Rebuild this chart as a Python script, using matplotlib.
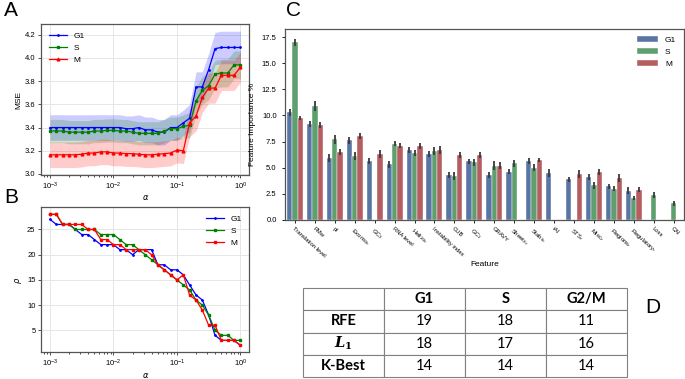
import numpy as np
import matplotlib
matplotlib.use('Agg')
import matplotlib.pyplot as plt

plt.rcParams['font.family'] = ['Liberation Sans', 'DejaVu Sans']
plt.rcParams['font.size'] = 6

# ---- data ----
alpha = [0.001, 0.00126, 0.00158, 0.002, 0.00251, 0.00316, 0.00398, 0.00501,
         0.00631, 0.00794, 0.01, 0.0126, 0.0158, 0.02, 0.0251, 0.0316, 0.0398,
         0.0501, 0.0631, 0.0794, 0.1, 0.126, 0.158, 0.2, 0.251, 0.316, 0.398,
         0.501, 0.631, 0.794, 1.0]

mse_g1 = [3.40, 3.40, 3.40, 3.40, 3.40, 3.40, 3.40, 3.40, 3.40, 3.40, 3.40,
          3.40, 3.39, 3.39, 3.40, 3.38, 3.38, 3.36, 3.36, 3.40, 3.40, 3.44,
          3.48, 3.75, 3.75, 3.90, 4.08, 4.09, 4.09, 4.09, 4.09]
mse_s = [3.37, 3.37, 3.37, 3.36, 3.36, 3.36, 3.36, 3.37, 3.37, 3.375, 3.375,
         3.37, 3.37, 3.36, 3.35, 3.35, 3.35, 3.35, 3.37, 3.39, 3.39, 3.41,
         3.42, 3.63, 3.72, 3.76, 3.86, 3.87, 3.87, 3.94, 3.94]
mse_m = [3.165, 3.165, 3.165, 3.165, 3.165, 3.17, 3.18, 3.18, 3.19, 3.19, 3.18,
         3.18, 3.175, 3.175, 3.17, 3.165, 3.165, 3.17, 3.175, 3.18, 3.205, 3.20,
         3.44, 3.50, 3.66, 3.74, 3.74, 3.85, 3.85, 3.85, 3.92]
std_g1 = [0.11, 0.11, 0.11, 0.11, 0.11, 0.11, 0.11, 0.11, 0.11, 0.11, 0.11,
          0.11, 0.11, 0.11, 0.11, 0.11, 0.11, 0.11, 0.11, 0.11, 0.11, 0.11,
          0.12, 0.13, 0.13, 0.14, 0.14, 0.14, 0.14, 0.14, 0.14]
std_s = [0.10, 0.10, 0.10, 0.10, 0.10, 0.10, 0.10, 0.10, 0.10, 0.10, 0.10,
         0.10, 0.10, 0.10, 0.10, 0.10, 0.10, 0.10, 0.10, 0.10, 0.10, 0.10,
         0.11, 0.12, 0.12, 0.12, 0.12, 0.12, 0.12, 0.12, 0.12]
std_m = [0.11, 0.11, 0.11, 0.11, 0.11, 0.11, 0.11, 0.11, 0.11, 0.11, 0.11,
         0.11, 0.11, 0.11, 0.11, 0.11, 0.11, 0.11, 0.11, 0.11, 0.11, 0.11,
         0.12, 0.13, 0.13, 0.13, 0.13, 0.13, 0.13, 0.13, 0.13]

rho_g1 = [27, 26, 26, 26, 25, 24, 24, 23, 22, 22, 22, 21, 21, 20, 21, 21, 21,
          18, 18, 17, 17, 16, 14, 12, 11, 8, 4, 3, 3, 3, 2]
rho_s = [28, 28, 26, 26, 25, 25, 25, 25, 24, 24, 24, 23, 22, 22, 21, 20, 19,
         18, 17, 16, 15, 14, 13, 11, 10, 8, 5, 4, 4, 3, 3]
rho_m = [28, 28, 26, 26, 26, 26, 25, 25, 23, 23, 22, 22, 21, 21, 21, 21, 20,
         18, 17, 16, 15, 16, 12, 11, 9, 6, 6, 3, 3, 3, 2]

features = ['Translation level', 'PMw', 'pI', r'Exons$_{Sc}$', r'GC$_3$',
            'RNA level', r'Helix$_{Sc}$', 'Instability index', 'CUB', r'GC$_1$',
            'GRAVY', r'Sheet$_{Sc}$', r'Stab$_{Sc}$', 'tAI', r'STS$_r$',
            r'Misc$_r$', r'Regions$_r$', r'Regulatory$_r$', 'Loss', 'CAI']
imp_g1 = [10.3, 9.2, 5.9, 7.6, 5.6, 5.3, 6.7, 6.3, 4.3, 5.6,
          4.3, 4.6, 5.6, 4.5, 3.9, 4.1, 3.2, 2.8, np.nan, np.nan]
imp_s = [17.0, 10.9, 7.7, 6.1, np.nan, 7.3, 6.4, 6.6, 4.2, 5.5,
         5.2, 5.4, 5.0, np.nan, np.nan, 3.3, 3.0, 2.1, 2.4, 1.6]
imp_m = [9.75, 9.1, 6.5, 8.0, 6.3, 7.1, 7.1, 6.7, 6.2, 6.2,
         5.2, np.nan, 5.7, np.nan, 4.4, 4.6, 4.0, 2.9, np.nan, np.nan]
err_g1 = [0.35, 0.3, 0.4, 0.3, 0.3, 0.35, 0.3, 0.25, 0.3, 0.25,
          0.3, 0.25, 0.3, 0.4, 0.25, 0.25, 0.25, 0.35, np.nan, np.nan]
err_s = [0.35, 0.45, 0.4, 0.4, np.nan, 0.25, 0.3, 0.35, 0.4, 0.3,
         0.4, 0.35, 0.3, np.nan, np.nan, 0.3, 0.25, 0.2, 0.3, 0.25]
err_m = [0.2, 0.3, 0.25, 0.3, 0.4, 0.25, 0.3, 0.35, 0.3, 0.3,
         0.35, np.nan, 0.2, np.nan, 0.35, 0.3, 0.35, 0.2, np.nan, np.nan]

table_cols = ['G1', 'S', 'G2/M']
table_rows = ['RFE', r'$\mathbfit{L}_\mathbf{1}$', 'K-Best']
table_vals = [[19, 18, 11], [18, 17, 16], [14, 14, 14]]

# ---- figure ----
fig = plt.figure(figsize=(6.85, 3.79), dpi=100)


def style_line_ax(ax):
    ax.set_xscale('log')
    ax.set_xlim(10 ** -3.14, 10 ** 0.14)
    ax.grid(True, color='#e6e6e6', lw=0.7)
    ax.set_axisbelow(True)
    for s in ax.spines.values():
        s.set_color('#555555')
        s.set_linewidth(0.9)
    ax.tick_params(labelsize=5.5, length=2.5, width=0.6, color='#333333', pad=1.5)
    ax.tick_params(which='minor', length=1.5, width=0.5)
    ax.set_xlabel(r'$\alpha$', fontsize=6, labelpad=1)


# A
axA = fig.add_axes([0.060, 0.538, 0.304, 0.398])
for y, sd, c, mk, lab in [(mse_g1, std_g1, 'blue', '.', 'G1'),
                          (mse_s, std_s, 'green', 's', 'S'),
                          (mse_m, std_m, 'red', '^', 'M')]:
    y = np.array(y)
    sd = np.array(sd)
    axA.fill_between(alpha, y - sd, y + sd, color=c, alpha=0.2, lw=0)
    axA.plot(alpha, y, color=c, marker=mk, ms=2, lw=0.9, label=lab)
style_line_ax(axA)
axA.set_ylim(2.99, 4.29)
axA.set_yticks(np.arange(3.0, 4.21, 0.2))
axA.set_ylabel('MSE', fontsize=6, labelpad=2)
axA.legend(loc='upper left', frameon=False, fontsize=6, handlelength=2.2)

# B
axB = fig.add_axes([0.060, 0.070, 0.304, 0.383])
for y, c, mk, lab in [(rho_g1, 'blue', '.', 'G1'),
                      (rho_s, 'green', 's', 'S'),
                      (rho_m, 'red', 's', 'M')]:
    axB.plot(alpha, y, color=c, marker=mk, ms=2, lw=0.9, label=lab)
style_line_ax(axB)
axB.set_ylim(0.6, 29.4)
axB.set_yticks([5, 10, 15, 20, 25])
axB.set_ylabel(r'$\rho$', fontsize=6, labelpad=2)
axB.legend(loc='upper right', frameon=False, fontsize=6, handlelength=2.2)

# C
axC = fig.add_axes([0.416, 0.420, 0.582, 0.504])
x = np.arange(len(features))
w = 0.8 / 3
cols = ['#5875a4', '#5f9e6e', '#b55d60']
for k, (vals, errs, c, lab) in enumerate([(imp_g1, err_g1, cols[0], 'G1'),
                                          (imp_s, err_s, cols[1], 'S'),
                                          (imp_m, err_m, cols[2], 'M')]):
    vals = np.array(vals)
    errs = np.array(errs)
    ok = ~np.isnan(vals)
    xs = x[ok] + (k - 1) * w
    axC.bar(xs, vals[ok], width=w, color=c, label=lab,
            edgecolor='white', linewidth=0.3)
    axC.errorbar(xs, vals[ok], yerr=errs[ok], fmt='none',
                 ecolor='#3a3a3a', elinewidth=1.3, capsize=0)
axC.set_xlim(-0.5, len(features) - 0.5)
axC.set_ylim(0, 18.3)
axC.set_yticks(np.arange(0, 17.6, 2.5))
axC.set_yticklabels(['%.1f' % v for v in np.arange(0, 17.6, 2.5)])
axC.set_xticks(x)
axC.set_xticklabels(features, rotation=-42, ha='left', rotation_mode='anchor')
axC.tick_params(labelsize=5.5, length=2.5, width=0.6)
axC.tick_params(axis='x', labelsize=4.2, pad=2)
for s in axC.spines.values():
    s.set_color('#555555')
    s.set_linewidth(0.9)
axC.set_ylabel('Feature Importance %', fontsize=6)
axC.set_xlabel('Feature', fontsize=6)
axC.xaxis.set_label_coords(0.5, -0.215)
axC.legend(loc='upper right', frameon=False, fontsize=6, handlelength=2.5)

# D table
axD = fig.add_axes([303 / 685, 1 - 377 / 379, 324 / 685, 89 / 379])
axD.axis('off')
cell_text = [[''] + table_cols] + [[r] + [str(v) for v in row]
                                   for r, row in zip(table_rows, table_vals)]
tab = axD.table(cellText=cell_text, cellLoc='center', bbox=[0, 0, 1, 1])
tab.auto_set_font_size(False)
for (r, c), cell in tab.get_celld().items():
    cell.set_edgecolor('#808080')
    cell.set_linewidth(0.8)
    t = cell.get_text()
    t.set_fontsize(10.5)
    t.set_fontfamily(['Lato', 'DejaVu Sans'])
    if r == 0 or c == 0:
        t.set_fontweight('bold')
    if r == 2 and c == 0:
        t.set_math_fontfamily('dejavuserif')

# panel letters
for lab, px, py in [('A', 4, 16), ('B', 4, 203), ('C', 286, 16), ('D', 645, 313)]:
    fig.text(px / 685, 1 - py / 379, lab, fontsize=15, ha='left', va='baseline')

fig.savefig('out.png', dpi=100)
